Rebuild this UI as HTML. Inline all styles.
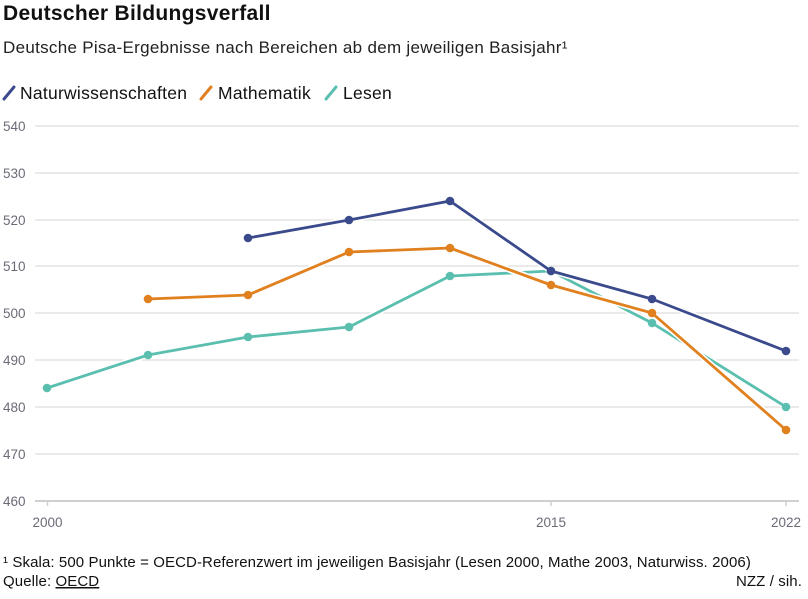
<!DOCTYPE html>
<html><head><meta charset="utf-8">
<style>
html,body{margin:0;padding:0;background:#fff;}
body{width:808px;height:599px;overflow:hidden;position:relative;font-family:"Liberation Sans",Arial,sans-serif;color:#111;}
.t{position:absolute;white-space:nowrap;}
</style></head>
<body>
<div class="t" style="left:3px;top:2px;font-size:21px;font-weight:bold;color:#111;letter-spacing:0.3px;">Deutscher Bildungsverfall</div>
<div class="t" style="left:3px;top:38px;font-size:17px;color:#222;letter-spacing:0.3px;">Deutsche Pisa-Ergebnisse nach Bereichen ab dem jeweiligen Basisjahr¹</div>
<svg width="808" height="599" style="position:absolute;left:0;top:0" xmlns="http://www.w3.org/2000/svg">
  <!-- legend -->
  <g stroke-width="3" stroke-linecap="round">
    <line x1="4" y1="99" x2="14" y2="87" stroke="#3a4a8c"/>
    <line x1="201" y1="99" x2="211" y2="87" stroke="#e0801f"/>
    <line x1="326" y1="99" x2="336" y2="87" stroke="#5bbfb0"/>
  </g>
  <g font-family="Liberation Sans, Arial, sans-serif" font-size="17.5" fill="#111" letter-spacing="0.25">
    <text x="20" y="99">Naturwissenschaften</text>
    <text x="218" y="99">Mathematik</text>
    <text x="343" y="99">Lesen</text>
  </g>
  <!-- grid -->
  <g stroke="#d6d6d6" stroke-width="1">
    <line x1="35" y1="126" x2="799" y2="126"/>
    <line x1="35" y1="173" x2="799" y2="173"/>
    <line x1="35" y1="220" x2="799" y2="220"/>
    <line x1="35" y1="266" x2="799" y2="266"/>
    <line x1="35" y1="313" x2="799" y2="313"/>
    <line x1="35" y1="360" x2="799" y2="360"/>
    <line x1="35" y1="407" x2="799" y2="407"/>
    <line x1="35" y1="454" x2="799" y2="454"/>
  </g>
  <line x1="35" y1="501" x2="799" y2="501" stroke="#cfcfd2" stroke-width="2"/>
  <g stroke="#cfcfd2" stroke-width="1.5">
    <line x1="47.5" y1="501" x2="47.5" y2="506"/>
    <line x1="551" y1="501" x2="551" y2="506"/>
    <line x1="786" y1="501" x2="786" y2="506"/>
  </g>
  <g font-family="Liberation Sans, Arial, sans-serif" font-size="13.5" fill="#6b6b78">
    <text x="3" y="131">540</text>
    <text x="3" y="178">530</text>
    <text x="3" y="225">520</text>
    <text x="3" y="271">510</text>
    <text x="3" y="318">500</text>
    <text x="3" y="365">490</text>
    <text x="3" y="412">480</text>
    <text x="3" y="459">470</text>
    <text x="3" y="506">460</text>
    <text x="47.5" y="527" text-anchor="middle">2000</text>
    <text x="551" y="527" text-anchor="middle">2015</text>
    <text x="786" y="527" text-anchor="middle">2022</text>
  </g>
  <!-- series: Lesen -->
  <polyline fill="none" stroke="#fff" stroke-width="6" stroke-linejoin="round" points="47,388 148,355 248,337 349,327 450,276 551,271 652,323 786,407"/>
  <polyline fill="none" stroke="#5bbfb0" stroke-width="2.8" stroke-linejoin="round" points="47,388 148,355 248,337 349,327 450,276 551,271 652,323 786,407"/>
  <g fill="#5bbfb0">
    <circle cx="47" cy="388" r="4.3"/><circle cx="148" cy="355" r="4.3"/><circle cx="248" cy="337" r="4.3"/><circle cx="349" cy="327" r="4.3"/><circle cx="450" cy="276" r="4.3"/><circle cx="551" cy="271" r="4.3"/><circle cx="652" cy="323" r="4.3"/><circle cx="786" cy="407" r="4.3"/>
  </g>
  <!-- series: Mathematik -->
  <polyline fill="none" stroke="#fff" stroke-width="6" stroke-linejoin="round" points="148,299 248,295 349,252 450,248 551,285 652,313 786,430"/>
  <polyline fill="none" stroke="#e0801f" stroke-width="2.8" stroke-linejoin="round" points="148,299 248,295 349,252 450,248 551,285 652,313 786,430"/>
  <g fill="#e0801f">
    <circle cx="148" cy="299" r="4.3"/><circle cx="248" cy="295" r="4.3"/><circle cx="349" cy="252" r="4.3"/><circle cx="450" cy="248" r="4.3"/><circle cx="551" cy="285" r="4.3"/><circle cx="652" cy="313" r="4.3"/><circle cx="786" cy="430" r="4.3"/>
  </g>
  <!-- series: Naturwissenschaften -->
  <polyline fill="none" stroke="#fff" stroke-width="6" stroke-linejoin="round" points="248,238 349,220 450,201 551,271 652,299 786,351"/>
  <polyline fill="none" stroke="#3a4a8c" stroke-width="2.8" stroke-linejoin="round" points="248,238 349,220 450,201 551,271 652,299 786,351"/>
  <g fill="#3a4a8c">
    <circle cx="248" cy="238" r="4.3"/><circle cx="349" cy="220" r="4.3"/><circle cx="450" cy="201" r="4.3"/><circle cx="551" cy="271" r="4.3"/><circle cx="652" cy="299" r="4.3"/><circle cx="786" cy="351" r="4.3"/>
  </g>
  <!-- footer -->
  <g font-family="Liberation Sans, Arial, sans-serif" font-size="15" fill="#111" letter-spacing="0.1">
    <text x="3" y="567">¹ Skala: 500 Punkte = OECD-Referenzwert im jeweiligen Basisjahr (Lesen 2000, Mathe 2003, Naturwiss. 2006)</text>
    <text x="3" y="586">Quelle: <tspan text-decoration="underline">OECD</tspan></text>
    <text x="802" y="586" text-anchor="end">NZZ / sih.</text>
  </g>
</svg>
</body></html>
